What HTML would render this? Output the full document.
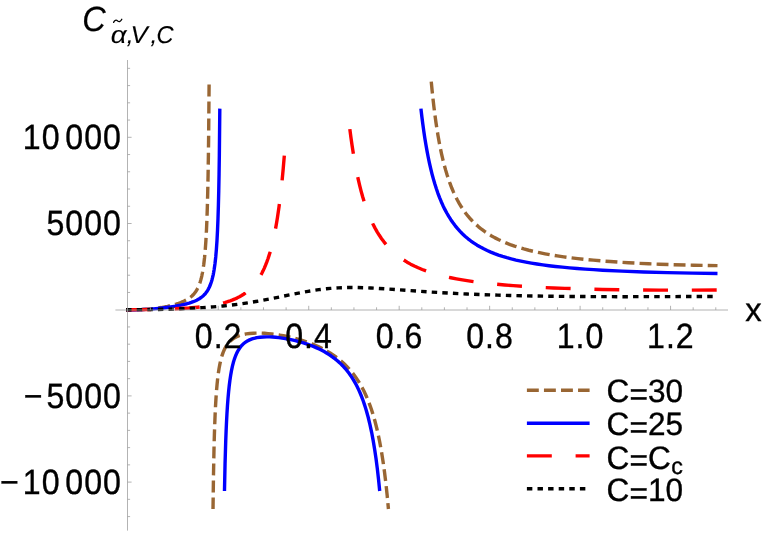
<!DOCTYPE html>
<html><head><meta charset="utf-8"><title>plot</title>
<style>html,body{margin:0;padding:0;background:#fff;overflow:hidden}svg{display:block}text{font-family:"Liberation Sans",sans-serif;fill:#000;text-rendering:geometricPrecision}.t{filter:grayscale(1);stroke:#000;stroke-width:0.35px}</style></head><body>
<svg width="763" height="533" viewBox="0 0 763 533">
<rect width="763" height="533" fill="#fff"/>
<g fill="none" stroke-width="3.40" stroke-linejoin="round">
<path d="M126.10 309.70 L135.72 309.66 L142.49 309.48 L145.76 309.31 L148.93 309.09 L152.02 308.81 L155.05 308.47 L158.25 308.04 L161.40 307.55 L164.51 306.98 L167.56 306.35 L170.53 305.65 L173.39 304.91 L176.09 304.11 L178.62 303.28 L180.76 302.49 L182.75 301.68 L184.59 300.83 L186.30 299.94 L187.88 299.02 L189.35 298.05 L190.70 297.02 L191.97 295.94 L193.14 294.78 L194.24 293.55 L195.26 292.24 L196.21 290.83 L197.10 289.33 L197.93 287.72 L198.71 285.99 L199.44 284.14 L200.11 282.20 L200.74 280.13 L201.32 277.91 L201.88 275.53 L202.40 272.99 L202.89 270.28 L203.78 264.28 L204.57 257.44 L205.27 249.65 L205.89 240.80 L206.44 230.75 L206.93 219.33 L207.36 206.40 L207.74 191.76 L208.08 175.18 L208.38 156.45 L208.65 135.27 L209.10 84.30" stroke="#996633" stroke-dasharray="11.9 5.15" stroke-dashoffset="1.80"/>
<path d="M213.02 508.99 L213.48 475.47 L214.03 447.84 L214.35 435.92 L214.70 425.11 L215.09 415.29 L215.51 406.39 L215.98 398.32 L216.50 391.01 L217.07 384.38 L217.69 378.37 L218.38 372.93 L219.14 368.01 L219.98 363.56 L220.90 359.55 L221.93 355.90 L223.06 352.61 L224.30 349.66 L224.97 348.30 L225.67 347.01 L226.41 345.80 L227.18 344.65 L227.99 343.57 L228.85 342.55 L229.74 341.59 L230.68 340.70 L231.66 339.85 L232.69 339.07 L233.78 338.33 L234.92 337.64 L236.12 337.00 L237.37 336.42 L238.69 335.88 L240.07 335.40 L241.51 334.96 L243.02 334.56 L246.24 333.92 L249.76 333.46 L253.56 333.18 L257.64 333.08 L260.99 333.14 L264.48 333.31 L268.10 333.58 L271.83 333.97 L275.63 334.46 L279.49 335.05 L283.37 335.74 L287.24 336.52 L291.05 337.38 L294.82 338.32 L298.52 339.34 L302.15 340.44 L305.70 341.61 L309.16 342.84 L312.52 344.15 L315.79 345.52 L318.82 346.89 L321.77 348.33 L324.63 349.83 L327.40 351.38 L330.08 353.00 L332.67 354.68 L335.18 356.43 L337.61 358.24 L339.95 360.12 L342.22 362.06 L344.41 364.07 L346.53 366.16 L348.58 368.32 L350.56 370.56 L352.47 372.87 L354.31 375.27 L356.03 377.65 L357.68 380.12 L359.29 382.66 L360.84 385.30 L362.34 388.02 L363.79 390.83 L365.19 393.74 L366.54 396.74 L367.85 399.85 L369.12 403.06 L370.34 406.38 L371.53 409.81 L372.67 413.36 L373.78 417.02 L374.85 420.81 L375.88 424.73 L376.88 428.78 L377.85 432.97 L378.78 437.29 L379.68 441.77 L381.40 451.19 L383.00 461.25 L384.50 472.01 L385.90 483.52 L387.21 495.83 L388.43 509.00" stroke="#996633" stroke-dasharray="11.9 5.15" stroke-dashoffset="0.50"/>
<path d="M431.26 81.61 L432.10 90.29 L432.97 98.62 L433.88 106.58 L434.83 114.20 L435.82 121.50 L436.86 128.48 L437.94 135.17 L439.07 141.56 L440.25 147.68 L441.48 153.54 L442.77 159.14 L444.11 164.50 L445.51 169.63 L446.98 174.54 L448.51 179.23 L450.10 183.72 L451.77 188.01 L453.51 192.11 L455.33 196.03 L457.23 199.78 L459.21 203.37 L461.28 206.79 L463.45 210.06 L465.70 213.19 L468.06 216.18 L470.53 219.03 L473.10 221.75 L475.79 224.35 L478.59 226.83 L481.53 229.20 L484.59 231.46 L487.79 233.62 L491.13 235.67 L494.62 237.62 L498.26 239.48 L502.07 241.26 L506.05 242.95 L510.21 244.56 L514.56 246.09 L519.10 247.54 L523.85 248.93 L528.81 250.24 L534.01 251.49 L539.44 252.68 L545.11 253.80 L551.05 254.86 L557.26 255.87 L563.76 256.83 L570.65 257.74 L577.85 258.60 L585.39 259.41 L593.27 260.17 L601.52 260.88 L610.14 261.55 L619.14 262.17 L628.52 262.74 L638.37 263.27 L648.61 263.76 L659.24 264.20 L670.24 264.59 L693.29 265.23 L717.49 265.67" stroke="#996633" stroke-dasharray="11.9 5.15"/>
<path d="M126.10 309.68 L134.19 309.73 L142.25 309.53 L150.36 309.10 L158.47 308.42 L162.58 307.99 L166.62 307.50 L170.53 306.96 L174.28 306.38 L177.80 305.76 L181.08 305.12 L184.12 304.44 L186.93 303.73 L189.19 303.08 L191.29 302.41 L193.24 301.70 L195.06 300.95 L196.75 300.17 L198.32 299.33 L199.78 298.45 L201.14 297.51 L202.42 296.50 L203.61 295.43 L204.73 294.29 L205.77 293.06 L206.74 291.75 L207.65 290.35 L208.51 288.85 L209.31 287.24 L210.05 285.54 L210.75 283.72 L211.40 281.76 L212.02 279.68 L212.59 277.45 L213.13 275.07 L213.64 272.53 L214.11 269.81 L214.98 263.80 L215.74 256.96 L216.41 249.17 L217.01 240.30 L217.53 230.20 L217.99 218.72 L218.39 205.68 L218.75 190.86 L219.07 174.03 L219.34 154.93 L219.81 108.62" stroke="#0000ff"/>
<path d="M224.47 490.99 L225.05 463.90 L225.73 441.02 L226.11 430.95 L226.53 421.71 L226.98 413.22 L227.48 405.43 L228.01 398.28 L228.60 391.73 L229.23 385.73 L229.92 380.23 L230.67 375.21 L231.48 370.61 L232.37 366.42 L233.33 362.60 L234.38 359.12 L235.52 355.96 L236.76 353.11 L238.10 350.54 L239.56 348.23 L240.34 347.16 L241.15 346.16 L242.00 345.22 L242.88 344.33 L243.80 343.50 L244.76 342.73 L245.76 342.00 L246.81 341.32 L247.90 340.70 L249.03 340.12 L250.22 339.60 L251.45 339.12 L252.73 338.69 L254.07 338.30 L256.92 337.67 L260.00 337.22 L263.32 336.95 L266.89 336.86 L269.69 336.91 L272.62 337.06 L275.67 337.30 L278.82 337.65 L282.06 338.08 L285.36 338.61 L288.69 339.23 L292.04 339.93 L295.34 340.70 L298.60 341.54 L301.80 342.45 L304.94 343.42 L307.99 344.45 L310.97 345.54 L313.85 346.68 L316.65 347.88 L319.22 349.07 L321.71 350.31 L324.12 351.60 L326.46 352.94 L328.72 354.34 L330.90 355.78 L333.02 357.29 L335.07 358.85 L337.05 360.46 L338.97 362.14 L340.82 363.88 L342.62 365.68 L344.35 367.55 L346.04 369.49 L347.66 371.50 L349.24 373.58 L350.72 375.67 L352.16 377.84 L353.55 380.08 L354.90 382.40 L356.21 384.81 L357.48 387.29 L358.71 389.86 L359.90 392.51 L361.05 395.26 L362.17 398.10 L363.25 401.03 L364.30 404.07 L365.32 407.20 L366.31 410.45 L368.19 417.26 L369.96 424.53 L371.63 432.30 L373.19 440.58 L374.66 449.41 L376.04 458.83 L377.34 468.88 L378.56 479.59 L379.71 491.00" stroke="#0000ff"/>
<path d="M420.92 108.60 L421.84 116.46 L422.80 124.00 L423.80 131.23 L424.84 138.15 L425.92 144.79 L427.05 151.15 L428.22 157.25 L429.45 163.09 L430.72 168.68 L432.05 174.04 L433.43 179.17 L434.87 184.09 L436.37 188.79 L437.93 193.29 L439.56 197.60 L441.25 201.71 L443.01 205.65 L444.85 209.41 L446.77 213.00 L448.76 216.43 L450.84 219.71 L453.00 222.84 L455.26 225.83 L457.61 228.67 L460.06 231.39 L462.61 233.98 L465.28 236.44 L468.05 238.79 L470.95 241.02 L473.97 243.14 L477.11 245.16 L480.40 247.07 L483.72 248.84 L487.18 250.51 L490.79 252.10 L494.56 253.61 L498.49 255.04 L502.59 256.40 L506.87 257.68 L511.34 258.89 L516.01 260.04 L520.89 261.12 L525.99 262.15 L531.34 263.11 L536.93 264.02 L542.80 264.88 L548.95 265.69 L555.41 266.45 L562.30 267.17 L569.55 267.86 L577.18 268.50 L585.22 269.10 L593.70 269.66 L602.64 270.19 L621.97 271.14 L643.74 271.97 L667.35 272.65 L692.22 273.16 L717.49 273.49" stroke="#0000ff"/>
<path d="M126.10 309.70 L141.56 309.60 L155.50 309.38 L167.93 309.03 L178.98 308.56 L188.78 307.96 L197.54 307.22 L201.58 306.79 L205.40 306.32 L209.04 305.81 L212.49 305.26 L215.80 304.65 L218.95 304.00 L221.95 303.29 L224.82 302.53 L227.55 301.72 L230.16 300.85 L232.65 299.92 L235.04 298.92 L237.32 297.86 L239.51 296.73 L241.61 295.52 L243.62 294.24 L245.55 292.89 L247.41 291.45 L249.19 289.93 L250.91 288.33 L252.64 286.53 L254.31 284.64 L255.91 282.64 L257.45 280.52 L258.93 278.29 L260.36 275.93 L261.73 273.45 L263.06 270.84 L264.33 268.09 L265.56 265.20 L266.75 262.17 L267.90 258.98 L269.00 255.64 L270.07 252.14 L271.10 248.47 L272.10 244.63 L273.07 240.60 L274.01 236.38 L274.91 231.97 L275.79 227.35 L276.64 222.54 L277.46 217.52 L279.03 206.81 L280.51 195.17 L281.90 182.54 L283.20 168.88 L284.44 154.10" stroke="#ff0000" stroke-dasharray="24.9 23.8"/>
<path d="M349.83 129.10 L350.90 137.29 L352.01 145.11 L353.17 152.61 L354.37 159.77 L355.61 166.62 L356.91 173.16 L358.25 179.41 L359.65 185.38 L361.10 191.07 L362.61 196.51 L364.18 201.70 L365.82 206.66 L367.52 211.38 L369.29 215.88 L371.14 220.16 L373.07 224.25 L375.06 228.12 L377.15 231.82 L379.32 235.33 L381.59 238.67 L383.96 241.85 L386.43 244.87 L389.01 247.74 L391.70 250.47 L394.51 253.06 L397.46 255.52 L400.53 257.85 L403.75 260.06 L407.11 262.15 L410.64 264.14 L414.32 266.02 L418.19 267.79 L422.21 269.47 L426.43 271.05 L430.86 272.55 L435.49 273.96 L440.36 275.29 L445.46 276.55 L450.82 277.74 L456.45 278.86 L462.36 279.91 L468.58 280.89 L475.11 281.82 L481.97 282.69 L489.20 283.51 L496.80 284.27 L504.80 284.98 L513.21 285.65 L522.50 286.29 L532.29 286.88 L542.61 287.43 L553.47 287.93 L564.91 288.38 L576.89 288.78 L589.42 289.13 L602.44 289.44 L630.20 289.90 L659.14 290.15 L688.46 290.17 L717.49 289.96" stroke="#ff0000" stroke-dasharray="24.9 23.8"/>
<path d="M126.10 309.70 L141.08 309.65 L155.10 309.49 L168.18 309.21 L180.44 308.81 L191.92 308.30 L202.75 307.67 L213.03 306.90 L222.86 306.00 L231.29 305.08 L239.53 304.04 L247.69 302.86 L255.92 301.53 L262.99 300.27 L270.53 298.82 L293.22 294.18 L300.70 292.70 L308.11 291.35 L314.88 290.25 L318.84 289.69 L322.72 289.20 L326.55 288.77 L330.36 288.41 L334.16 288.11 L338.00 287.88 L341.87 287.70 L345.81 287.58 L351.54 287.51 L357.53 287.56 L363.88 287.72 L370.75 288.00 L378.11 288.40 L386.63 288.93 L416.81 291.08 L429.71 291.95 L441.06 292.66 L452.19 293.28 L466.96 294.00 L482.09 294.62 L497.79 295.15 L514.24 295.60 L532.27 295.97 L551.49 296.26 L572.13 296.48 L594.54 296.61 L618.26 296.68 L644.92 296.67 L717.49 296.46" stroke="#000000" stroke-dasharray="5.45 5.15"/>
</g>
<g stroke="#a0a0a0" stroke-width="0.80" fill="none">
<path d="M115.4 310 H728"/>
<path d="M127.5 60 V530.6"/>
<path d="M150.41 310 v-2.7 M173.03 310 v-2.7 M195.65 310 v-2.7 M218.26 310 v-4.2 M240.88 310 v-2.7 M263.49 310 v-2.7 M286.11 310 v-2.7 M308.72 310 v-4.2 M331.33 310 v-2.7 M353.95 310 v-2.7 M376.56 310 v-2.7 M399.18 310 v-4.2 M421.80 310 v-2.7 M444.41 310 v-2.7 M467.03 310 v-2.7 M489.64 310 v-4.2 M512.25 310 v-2.7 M534.87 310 v-2.7 M557.49 310 v-2.7 M580.10 310 v-4.2 M602.72 310 v-2.7 M625.33 310 v-2.7 M647.95 310 v-2.7 M670.56 310 v-4.2 M693.17 310 v-2.7 M715.79 310 v-2.7 M127.5 516.58 h2.6 M127.5 499.34 h2.6 M127.5 482.10 h4.1 M127.5 464.86 h2.6 M127.5 447.62 h2.6 M127.5 430.38 h2.6 M127.5 413.14 h2.6 M127.5 395.90 h4.1 M127.5 378.66 h2.6 M127.5 361.42 h2.6 M127.5 344.18 h2.6 M127.5 326.94 h2.6 M127.5 292.46 h2.6 M127.5 275.22 h2.6 M127.5 257.98 h2.6 M127.5 240.74 h2.6 M127.5 223.50 h4.1 M127.5 206.26 h2.6 M127.5 189.02 h2.6 M127.5 171.78 h2.6 M127.5 154.54 h2.6 M127.5 137.30 h4.1 M127.5 120.06 h2.6 M127.5 102.82 h2.6 M127.5 85.58 h2.6 M127.5 68.34 h2.6"/>
</g>
<g class="t">
<text transform="translate(218.61 347.50) scale(0.950 1.040)" font-size="33.8" text-anchor="middle" letter-spacing="1.05">0.2</text>
<text transform="translate(309.07 347.50) scale(0.950 1.040)" font-size="33.8" text-anchor="middle" letter-spacing="1.05">0.4</text>
<text transform="translate(399.53 347.50) scale(0.950 1.040)" font-size="33.8" text-anchor="middle" letter-spacing="1.05">0.6</text>
<text transform="translate(489.99 347.50) scale(0.950 1.040)" font-size="33.8" text-anchor="middle" letter-spacing="1.05">0.8</text>
<text transform="translate(580.45 347.50) scale(0.950 1.040)" font-size="33.8" text-anchor="middle" letter-spacing="1.05">1.0</text>
<text transform="translate(670.91 347.50) scale(0.950 1.040)" font-size="33.8" text-anchor="middle" letter-spacing="1.05">1.2</text>
<text transform="translate(121.90 148.90) scale(0.950 1.040)" font-size="33.8" text-anchor="end" letter-spacing="1.05">10<tspan dx="5.0">000</tspan></text>
<text transform="translate(121.90 235.10) scale(0.950 1.040)" font-size="33.8" text-anchor="end" letter-spacing="1.05">5000</text>
<text transform="translate(121.90 407.50) scale(0.950 1.040)" font-size="33.8" text-anchor="end" letter-spacing="1.05">−<tspan dx="3.2">5000</tspan></text>
<text transform="translate(121.90 493.70) scale(0.950 1.040)" font-size="33.8" text-anchor="end" letter-spacing="1.05">−<tspan dx="3.2">10</tspan><tspan dx="5.0">000</tspan></text>
<text transform="translate(745.30 321.10) scale(0.970 0.975)" font-size="33.8" text-anchor="start">x</text>
<text transform="translate(82.20 31.00) scale(0.960 1.040)" font-size="33.8" text-anchor="start" font-style="italic" stroke-width="0.2">C</text>
<text transform="translate(110.70 43.00) scale(1.140 1.000)" font-size="24.3" text-anchor="start" font-style="italic" stroke-width="0.1">α</text>
<text transform="translate(126.70 43.00) scale(1.000 1.000)" font-size="24.3" text-anchor="start" font-style="italic" stroke-width="0.1">,</text>
<text transform="translate(130.50 43.00) scale(1.060 1.000)" font-size="24.3" text-anchor="start" font-style="italic" stroke-width="0.1">V</text>
<text transform="translate(150.40 43.00) scale(1.000 1.000)" font-size="24.3" text-anchor="start" font-style="italic" stroke-width="0.1">,</text>
<text transform="translate(156.40 43.00) scale(0.970 1.000)" font-size="24.3" text-anchor="start" font-style="italic" stroke-width="0.1">C</text>
</g>
<path d="M113.6 22.4 q1.6 -3.4 4.1 -1.5 q2.4 1.9 4.1 -1.6" fill="none" stroke="#000" stroke-width="1.3" stroke-linecap="round"/>
<g fill="none" stroke-width="3.40">
<path d="M526.9 390.3 H589.6" stroke="#996633" stroke-dasharray="11.9 5.15"/>
<path d="M526.9 423.3 H589.6" stroke="#0000ff"/>
<path d="M526.9 455.9 H589.6" stroke="#ff0000" stroke-dasharray="24.9 23.8"/>
<path d="M526.9 488.8 H589.6" stroke="#000000" stroke-dasharray="5.45 5.15"/>
</g>
<g class="t">
<text transform="translate(606.60 402.40) scale(1.000 1.025)" font-size="31.6" text-anchor="start">C<tspan dy="2.3" stroke="#000" stroke-width="0.45">=</tspan><tspan dy="-2.3">30</tspan></text>
<text transform="translate(606.60 435.40) scale(1.000 1.025)" font-size="31.6" text-anchor="start">C<tspan dy="2.3" stroke="#000" stroke-width="0.45">=</tspan><tspan dy="-2.3">25</tspan></text>
<text transform="translate(606.60 468.60) scale(1.000 1.025)" font-size="31.6" text-anchor="start">C<tspan dy="2.3" stroke="#000" stroke-width="0.45">=</tspan><tspan dy="-2.3">C</tspan></text>
<text transform="translate(606.60 501.20) scale(1.000 1.025)" font-size="31.6" text-anchor="start">C<tspan dy="2.3" stroke="#000" stroke-width="0.45">=</tspan><tspan dy="-2.3">10</tspan></text>
<text transform="translate(671.30 473.60) scale(1.040 1.040)" font-size="22.4" text-anchor="start">c</text>
</g>
</svg></body></html>
